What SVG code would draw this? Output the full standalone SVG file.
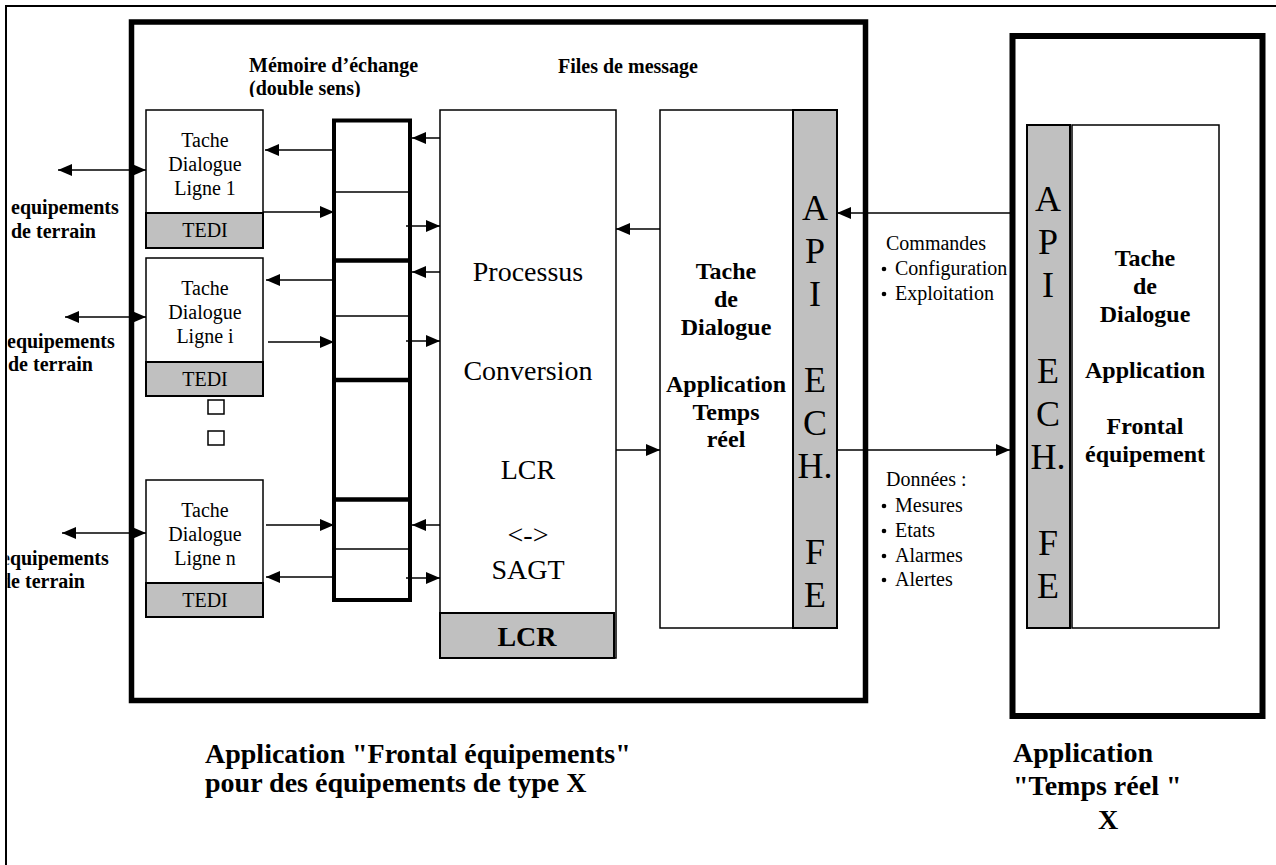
<svg xmlns="http://www.w3.org/2000/svg" width="1276" height="865" viewBox="0 0 1276 865">
<style>
.frame{fill:none;stroke:#000;stroke-width:2}
.big{fill:none;stroke:#000;stroke-width:5.5}
.box{fill:#fff;stroke:#000;stroke-width:1.5}
.gray{fill:#c0c0c0;stroke:#000;stroke-width:2}
.mem{fill:#fff;stroke:#000;stroke-width:4}
.div{stroke:#000;stroke-width:1.5}
.divb{stroke:#000;stroke-width:4.5}
.con{fill:none;stroke:#000;stroke-width:1.5}
text{font-family:"Liberation Serif","Times New Roman",serif;fill:#000}
.r20{font-size:20px}
.b20{font-size:20px;font-weight:bold}
.b24{font-size:24px;font-weight:bold}
.b28{font-size:28px;font-weight:bold}
.r28{font-size:28px}
.api{font-size:36px}
.c{text-anchor:middle}
</style>
<defs>
<marker id="ah" markerUnits="userSpaceOnUse" markerWidth="14" markerHeight="12" refX="14" refY="6" orient="auto-start-reverse">
<path d="M0,0 L14,6 L0,12 z" fill="#000"/>
</marker>
<clipPath id="clipL"><rect x="7.5" y="0" width="300" height="865"/></clipPath>
<clipPath id="clipM"><rect x="200" y="40" width="300" height="57"/></clipPath>
</defs>
<rect x="0" y="0" width="1276" height="865" fill="#fff"/>
<path class="frame" d="M6,865 V6 H1276"/>

<g id="app-frontal">
<rect class="big" x="131.5" y="22" width="734" height="678.5"/>
<text class="b28" x="205" y="763">Application "Frontal équipements"</text>
<text class="b28" x="205" y="792">pour des équipements de type X</text>
</g>

<g id="app-temps-reel">
<rect class="big" x="1012.5" y="36" width="250" height="680" style="stroke-width:6"/>
<text class="b28" x="1013" y="762">Application</text>
<text class="b28" x="1013" y="795">"Temps réel "</text>
<text class="b28" x="1098" y="829">X</text>
</g>

<g id="labels-equipements" clip-path="url(#clipL)">
<text class="b20" x="11" y="214">equipements</text>
<text class="b20" x="11" y="238">de terrain</text>
<text class="b20" x="7" y="348">equipements</text>
<text class="b20" x="8" y="371">de terrain</text>
<text class="b20" x="1" y="565">equipements</text>
<text class="b20" x="0" y="588">de terrain</text>
</g>

<g id="titre-memoire">
<text class="b20" x="249" y="72">Mémoire d’échange</text>
<text class="b20" x="249" y="95" clip-path="url(#clipM)">(double sens)</text>
</g>
<g id="titre-files">
<text class="b20" x="558" y="73">Files de message</text>
</g>

<g id="tache-ligne-1">
<rect class="box" x="146" y="110" width="117" height="103"/>
<text class="r20 c" x="205" y="147">Tache</text>
<text class="r20 c" x="205" y="171">Dialogue</text>
<text class="r20 c" x="205" y="195">Ligne 1</text>
<rect class="gray" x="146" y="213" width="117" height="35"/>
<text class="r20 c" x="205" y="237">TEDI</text>
</g>
<g id="tache-ligne-i">
<rect class="box" x="146" y="258" width="117" height="104"/>
<text class="r20 c" x="205" y="295">Tache</text>
<text class="r20 c" x="205" y="319">Dialogue</text>
<text class="r20 c" x="205" y="343">Ligne i</text>
<rect class="gray" x="146" y="362" width="117" height="34"/>
<text class="r20 c" x="205" y="386">TEDI</text>
</g>
<g id="ellipsis">
<rect class="box" x="208" y="400" width="16" height="14"/>
<rect class="box" x="208" y="431" width="16" height="14"/>
</g>
<g id="tache-ligne-n">
<rect class="box" x="146" y="480" width="117" height="103"/>
<text class="r20 c" x="205" y="517">Tache</text>
<text class="r20 c" x="205" y="541">Dialogue</text>
<text class="r20 c" x="205" y="565">Ligne n</text>
<rect class="gray" x="146" y="583" width="117" height="34"/>
<text class="r20 c" x="205" y="607">TEDI</text>
</g>

<g id="memoire-echange">
<rect class="mem" x="334" y="120.5" width="76" height="479.5"/>
<line class="div" x1="334" y1="192" x2="410" y2="192"/>
<line class="divb" x1="334" y1="260.5" x2="410" y2="260.5"/>
<line class="div" x1="334" y1="316" x2="410" y2="316"/>
<line class="divb" x1="334" y1="380" x2="410" y2="380"/>
<line class="divb" x1="334" y1="499.5" x2="410" y2="499.5"/>
<line class="div" x1="334" y1="549" x2="410" y2="549"/>
</g>

<g id="processus-conversion">
<rect class="box" x="440" y="110" width="176" height="548"/>
<text class="r28 c" x="528" y="281">Processus</text>
<text class="r28 c" x="528" y="380">Conversion</text>
<text class="r28 c" x="528" y="479">LCR</text>
<text class="r28 c" x="528" y="544">&lt;-&gt;</text>
<text class="r28 c" x="528" y="579">SAGT</text>
<rect class="gray" x="440" y="613" width="174" height="45"/>
<text class="b28 c" x="527" y="646">LCR</text>
</g>

<g id="tache-dialogue-rt">
<rect class="box" x="660" y="110" width="133" height="518"/>
<text class="b24 c" x="726" y="279">Tache</text>
<text class="b24 c" x="726" y="307">de</text>
<text class="b24 c" x="726" y="335">Dialogue</text>
<text class="b24 c" x="726" y="392">Application</text>
<text class="b24 c" x="726" y="420">Temps</text>
<text class="b24 c" x="726" y="447">réel</text>
<rect class="gray" x="793" y="110" width="44" height="518"/>
<text class="api c" x="815" y="220">A</text>
<text class="api c" x="815" y="263">P</text>
<text class="api c" x="815" y="306">I</text>
<text class="api c" x="815" y="392">E</text>
<text class="api c" x="815" y="435">C</text>
<text class="api c" x="815" y="478">H.</text>
<text class="api c" x="815" y="564">F</text>
<text class="api c" x="815" y="607">E</text>
</g>

<g id="tache-dialogue-fe">
<rect class="gray" x="1027" y="125" width="43" height="503"/>
<text class="api c" x="1048" y="211">A</text>
<text class="api c" x="1048" y="254">P</text>
<text class="api c" x="1048" y="297">I</text>
<text class="api c" x="1048" y="383">E</text>
<text class="api c" x="1048" y="426">C</text>
<text class="api c" x="1048" y="469">H.</text>
<text class="api c" x="1048" y="555">F</text>
<text class="api c" x="1048" y="598">E</text>
<rect class="box" x="1072" y="125" width="147" height="503"/>
<text class="b24 c" x="1145" y="266">Tache</text>
<text class="b24 c" x="1145" y="294">de</text>
<text class="b24 c" x="1145" y="322">Dialogue</text>
<text class="b24 c" x="1145" y="378">Application</text>
<text class="b24 c" x="1145" y="434">Frontal</text>
<text class="b24 c" x="1145" y="462">équipement</text>
</g>

<g id="label-commandes">
<text class="r20" x="886" y="250">Commandes</text>
<circle cx="884" cy="269" r="2.3"/>
<text class="r20" x="895" y="275">Configuration</text>
<circle cx="884" cy="294" r="2.3"/>
<text class="r20" x="895" y="300">Exploitation</text>
</g>
<g id="label-donnees">
<text class="r20" x="886" y="486">Données :</text>
<circle cx="884" cy="506" r="2.3"/>
<text class="r20" x="895" y="512">Mesures</text>
<circle cx="884" cy="531" r="2.3"/>
<text class="r20" x="895" y="537">Etats</text>
<circle cx="884" cy="556" r="2.3"/>
<text class="r20" x="895" y="562">Alarmes</text>
<circle cx="884" cy="580" r="2.3"/>
<text class="r20" x="895" y="586">Alertes</text>
</g>

<g id="connectors">
<path class="con" d="M58,170 H146" marker-start="url(#ah)" marker-end="url(#ah)"/>
<path class="con" d="M65,317 H146" marker-start="url(#ah)" marker-end="url(#ah)"/>
<path class="con" d="M62,533 H146" marker-start="url(#ah)" marker-end="url(#ah)"/>
<path class="con" d="M333,150 H265" marker-end="url(#ah)"/>
<path class="con" d="M263,212 H334" marker-end="url(#ah)"/>
<path class="con" d="M333,280 H266" marker-end="url(#ah)"/>
<path class="con" d="M268,342 H334" marker-end="url(#ah)"/>
<path class="con" d="M266,525 H334" marker-end="url(#ah)"/>
<path class="con" d="M333,577 H266" marker-end="url(#ah)"/>
<path class="con" d="M440,138 H412" marker-end="url(#ah)"/>
<path class="con" d="M406,226 H440" marker-end="url(#ah)"/>
<path class="con" d="M440,272 H412" marker-end="url(#ah)"/>
<path class="con" d="M406,341 H440" marker-end="url(#ah)"/>
<path class="con" d="M440,525 H412" marker-end="url(#ah)"/>
<path class="con" d="M406,578 H440" marker-end="url(#ah)"/>
<path class="con" d="M660,229 H616" marker-end="url(#ah)"/>
<path class="con" d="M616,450 H660" marker-end="url(#ah)"/>
<path class="con" d="M1010,213 H837" marker-end="url(#ah)"/>
<path class="con" d="M837,450 H1010" marker-end="url(#ah)"/>
</g>
</svg>
